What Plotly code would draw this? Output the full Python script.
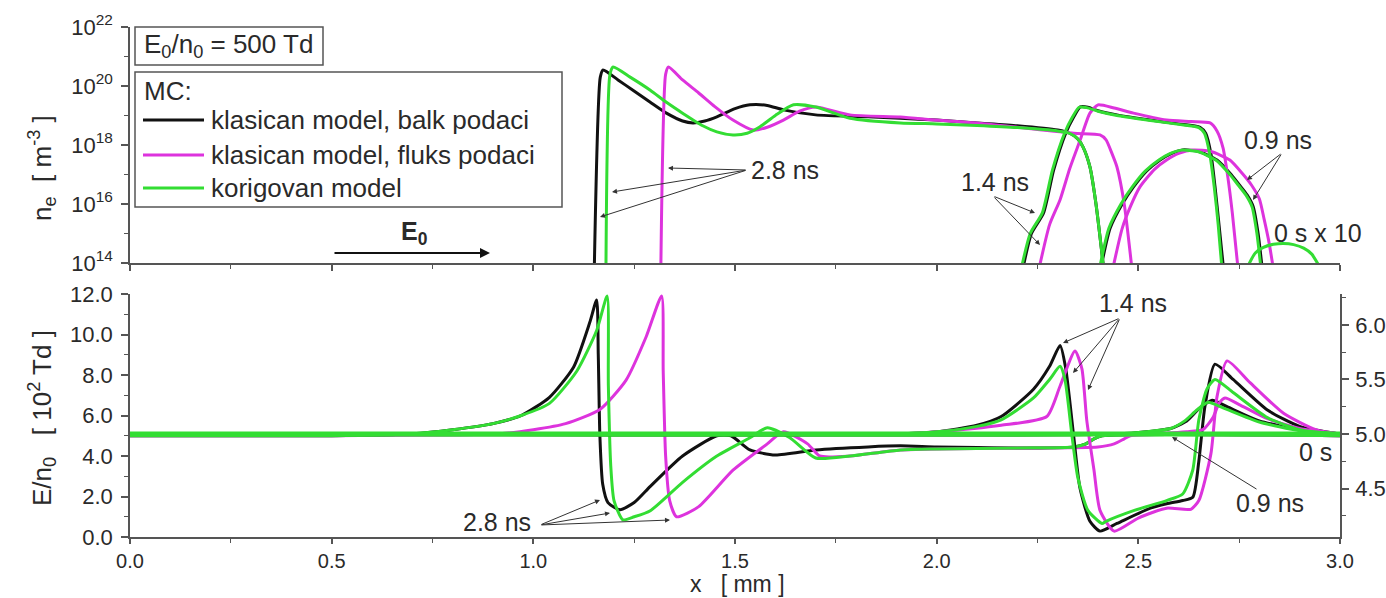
import plotly.graph_objects as go

W, H = 1386, 598
BLACK = "#111111"
MAG = "#dd33dd"
GRN = "#33dd33"
AX = "#555555"
TXT = "#2a2a2a"
FONT = "Arial, 'Liberation Sans', sans-serif"

# ---------------- top panel: n_e [m^-3] ----------------
top28_blk_x = [1.151, 1.166, 1.173, 1.21, 1.247, 1.29, 1.33, 1.37, 1.396, 1.425, 1.455, 1.50, 1.537, 1.58, 1.62, 1.70, 1.83, 1.91, 2.00, 2.10, 2.20, 2.30, 2.33, 2.35, 2.363, 2.38, 2.395, 2.415]
top28_blk_y = [5e13, 2e20, 3.5e20, 1.6e20, 7.2e19, 2.8e19, 1.2e19, 6.5e18, 5.6e18, 6.5e18, 9e18, 1.7e19, 2.3e19, 2.2e19, 1.55e19, 1.05e19, 9e18, 8e18, 7e18, 5.6e18, 4.5e18, 3.2e18, 2.5e18, 1.6e18, 8.5e17, 1.8e17, 1e16, 5e13]
top28_grn_x = [1.180, 1.190, 1.198, 1.24, 1.29, 1.33, 1.37, 1.42, 1.455, 1.495, 1.53, 1.56, 1.60, 1.645, 1.70, 1.785, 1.91, 2.00, 2.10, 2.20, 2.30, 2.33, 2.35, 2.363, 2.38, 2.395, 2.415]
top28_grn_y = [5e13, 2.5e20, 4.4e20, 2.0e20, 7.2e19, 2.8e19, 1.2e19, 4.5e18, 2.8e18, 2.2e18, 2.5e18, 4e18, 1e19, 2.3e19, 1.95e19, 8.1e18, 5.6e18, 5.2e18, 4.6e18, 3.9e18, 3.0e18, 2.5e18, 1.6e18, 8.5e17, 1.8e17, 1e16, 5e13]
top28_mag_x = [1.316, 1.328, 1.335, 1.37, 1.41, 1.45, 1.495, 1.545, 1.58, 1.62, 1.66, 1.70, 1.785, 1.91, 2.00, 2.10, 2.20, 2.34, 2.405, 2.42, 2.435, 2.447, 2.465, 2.485]
top28_mag_y = [5e13, 2.5e20, 4.4e20, 1.6e20, 5.8e19, 2e19, 7e18, 3.2e18, 4e18, 7e18, 1.4e19, 1.95e19, 1.05e19, 8.9e18, 7e18, 5.6e18, 4e18, 2.5e18, 2.2e18, 1.5e18, 5e17, 1.8e17, 1e16, 5e13]

top14_blk_x = [2.212, 2.235, 2.265, 2.29, 2.32, 2.34, 2.356, 2.375, 2.40, 2.447, 2.53, 2.60, 2.653, 2.667, 2.68, 2.69, 2.70, 2.712]
top14_blk_y = [5e13, 1e15, 5e15, 1.4e17, 2.5e18, 9e18, 1.95e19, 1.9e19, 1.45e19, 1.05e19, 7e18, 5.2e18, 4e18, 2.5e18, 5e17, 4e16, 2e15, 5e13]
top14_grn_x = [2.208, 2.232, 2.262, 2.287, 2.317, 2.337, 2.353, 2.372, 2.40, 2.447, 2.53, 2.60, 2.65, 2.664, 2.677, 2.688, 2.698, 2.708]
top14_grn_y = [5e13, 1e15, 5e15, 1.4e17, 2.5e18, 9e18, 1.9e19, 1.85e19, 1.4e19, 1.0e19, 6.8e18, 5.0e18, 3.9e18, 2.5e18, 5e17, 4e16, 2e15, 5e13]
top14_mag_x = [2.252, 2.28, 2.306, 2.33, 2.356, 2.38, 2.40, 2.44, 2.488, 2.57, 2.63, 2.678, 2.695, 2.71, 2.722, 2.733, 2.748]
top14_mag_y = [5e13, 2e15, 1.4e16, 1.6e17, 1.5e18, 1.2e19, 2.3e19, 1.8e19, 1.2e19, 7e18, 6.2e18, 5.6e18, 3e18, 8e17, 8e16, 5e15, 5e13]

top09_blk_x = [2.405, 2.43, 2.46, 2.488, 2.52, 2.554, 2.58, 2.61, 2.65, 2.695, 2.73, 2.75, 2.77, 2.785, 2.797, 2.808]
top09_blk_y = [5e13, 1.5e15, 1e16, 3.8e16, 1.3e17, 3.1e17, 5e17, 6.8e17, 6e17, 3.1e17, 1e17, 4.5e16, 2e16, 8e15, 1e15, 5e13]
top09_grn_x = [2.402, 2.427, 2.457, 2.485, 2.517, 2.551, 2.577, 2.607, 2.647, 2.692, 2.727, 2.747, 2.767, 2.782, 2.794, 2.805]
top09_grn_y = [5e13, 1.5e15, 1e16, 3.8e16, 1.3e17, 3.1e17, 5e17, 6.7e17, 6e17, 3.1e17, 1e17, 4.5e16, 2e16, 8e15, 1e15, 5e13]
top09_mag_x = [2.435, 2.46, 2.48, 2.504, 2.54, 2.57, 2.60, 2.636, 2.68, 2.727, 2.76, 2.78, 2.80, 2.812, 2.824, 2.836]
top09_mag_y = [5e13, 1.5e15, 8e15, 3.8e16, 1.5e17, 3.1e17, 5.2e17, 6.8e17, 6e17, 3.1e17, 1e17, 4.5e16, 1.5e16, 3e15, 5e14, 5e13]

top00_grn_x = [2.772, 2.79, 2.81, 2.835, 2.86, 2.885, 2.91, 2.93, 2.948]
top00_grn_y = [8e13, 2.2e14, 3.4e14, 4.3e14, 4.6e14, 4.2e14, 3.2e14, 2e14, 8e13]

# ---------------- bottom panel: E/n0 ----------------
# 2.8 ns on left axis [10^2 Td]
bot28_blk_x = [0.0, 0.5, 0.7, 0.8, 0.9, 0.97, 1.04, 1.10, 1.14, 1.157, 1.161, 1.165, 1.172, 1.185, 1.215, 1.25, 1.29, 1.37, 1.455, 1.49, 1.537, 1.60, 1.70, 1.83, 1.91, 2.00, 2.20, 2.34, 2.37, 2.39, 2.41, 3.0]
bot28_blk_y = [5.0, 5.0, 5.1, 5.3, 5.6, 6.0, 6.9, 8.4, 10.6, 11.7, 9.0, 5.0, 2.6, 1.7, 1.35, 1.7, 2.5, 4.0, 5.0, 5.0, 4.3, 4.05, 4.3, 4.45, 4.5, 4.45, 4.4, 4.45, 4.6, 4.85, 5.0, 5.0]
bot28_grn_x = [0.0, 0.5, 0.7, 0.8, 0.9, 0.97, 1.04, 1.108, 1.157, 1.183, 1.186, 1.192, 1.20, 1.222, 1.25, 1.29, 1.37, 1.455, 1.537, 1.58, 1.636, 1.70, 1.785, 1.91, 2.00, 2.20, 2.34, 2.37, 2.39, 2.41, 3.0]
bot28_grn_y = [5.0, 5.0, 5.1, 5.3, 5.6, 6.0, 6.6, 8.2, 10.2, 11.9, 7.5, 3.5, 1.8, 0.85, 1.0, 1.3, 2.7, 4.0, 4.9, 5.4, 4.9, 3.9, 4.0, 4.3, 4.35, 4.4, 4.45, 4.6, 4.85, 5.0, 5.0]
bot28_mag_x = [0.0, 0.5, 0.8, 0.917, 1.0, 1.08, 1.165, 1.23, 1.28, 1.318, 1.322, 1.328, 1.338, 1.355, 1.41, 1.495, 1.58, 1.62, 1.68, 1.71, 1.785, 1.91, 2.2, 2.40, 2.44, 2.465, 2.48, 3.0]
bot28_mag_y = [5.0, 5.0, 5.05, 5.1, 5.3, 5.6, 6.3, 7.75, 9.9, 11.9, 8.2, 4.0, 1.8, 1.0, 1.5, 3.3, 4.6, 5.2, 4.6, 4.0, 4.0, 4.3, 4.4, 4.45, 4.6, 4.85, 5.0, 5.0]

# 1.4 ns, 0.9 ns, 0 s on right axis
bot14_blk_x = [0.0, 1.9, 2.0, 2.1, 2.16, 2.24, 2.28, 2.306, 2.32, 2.34, 2.355, 2.38, 2.405, 2.447, 2.53, 2.57, 2.61, 2.635, 2.65, 2.665, 2.69, 2.735, 2.82, 2.90, 3.0]
bot14_blk_y = [5.0, 5.0, 5.02, 5.08, 5.16, 5.41, 5.62, 5.81, 5.6, 4.97, 4.51, 4.2, 4.11, 4.18, 4.32, 4.36, 4.39, 4.42, 4.75, 5.25, 5.64, 5.5, 5.22, 5.07, 5.0]
bot14_grn_x = [0.0, 1.9, 2.0, 2.1, 2.16, 2.24, 2.28, 2.306, 2.318, 2.335, 2.35, 2.375, 2.41, 2.42, 2.49, 2.57, 2.61, 2.635, 2.65, 2.67, 2.69, 2.735, 2.82, 2.90, 3.0]
bot14_grn_y = [5.0, 5.0, 5.02, 5.07, 5.13, 5.33, 5.5, 5.62, 5.5, 5.0, 4.6, 4.3, 4.18, 4.2, 4.3, 4.39, 4.45, 4.67, 5.13, 5.41, 5.5, 5.38, 5.15, 5.04, 5.0]
bot14_mag_x = [0.0, 1.9, 2.0, 2.16, 2.273, 2.306, 2.343, 2.36, 2.372, 2.39, 2.405, 2.44, 2.50, 2.57, 2.63, 2.65, 2.68, 2.695, 2.72, 2.777, 2.86, 2.94, 3.0]
bot14_mag_y = [5.0, 5.0, 5.02, 5.08, 5.16, 5.44, 5.76, 5.6, 5.13, 4.67, 4.3, 4.11, 4.23, 4.32, 4.31, 4.39, 4.82, 5.34, 5.67, 5.47, 5.19, 5.04, 5.0]

bot09_blk_x = [0.0, 2.45, 2.52, 2.58, 2.62, 2.65, 2.683, 2.72, 2.80, 2.90, 3.0]
bot09_blk_y = [5.0, 5.0, 5.02, 5.05, 5.12, 5.23, 5.31, 5.25, 5.12, 5.04, 5.0]
bot09_grn_x = [0.0, 2.45, 2.52, 2.58, 2.615, 2.645, 2.673, 2.71, 2.80, 2.90, 3.0]
bot09_grn_y = [5.0, 5.0, 5.02, 5.05, 5.12, 5.22, 5.29, 5.24, 5.11, 5.03, 5.0]
bot09_mag_x = [0.0, 2.50, 2.62, 2.66, 2.685, 2.70, 2.715, 2.75, 2.82, 2.90, 3.0]
bot09_mag_y = [5.0, 5.0, 5.02, 5.04, 5.15, 5.28, 5.33, 5.27, 5.14, 5.05, 5.0]

bot00_x = [0.0, 3.0]
bot00_y = [5.0, 5.0]

# tick labels
ne_tickvals = [1e14, 1e16, 1e18, 1e20, 1e22]
ne_ticktext = ["10<sup>14</sup>", "10<sup>16</sup>", "10<sup>18</sup>", "10<sup>20</sup>", "10<sup>22</sup>"]
ne_minorvals = [1e15, 1e17, 1e19, 1e21]

legend_labels = ["klasican model, balk podaci", "klasican model, fluks podaci", "korigovan model"]

fig = go.Figure()


def add(x, y, color, xa, ya, width=3, smooth=True):
    line = dict(color=color, width=width)
    if smooth:
        line.update(shape="spline", smoothing=0.6)
    fig.add_trace(go.Scatter(x=x, y=y, mode="lines", xaxis=xa, yaxis=ya,
                             line=line, showlegend=False, hoverinfo="skip"))


# top panel
for xs, ys, c in [(top28_blk_x, top28_blk_y, BLACK), (top14_blk_x, top14_blk_y, BLACK), (top09_blk_x, top09_blk_y, BLACK),
                  (top28_mag_x, top28_mag_y, MAG), (top14_mag_x, top14_mag_y, MAG), (top09_mag_x, top09_mag_y, MAG),
                  (top28_grn_x, top28_grn_y, GRN), (top14_grn_x, top14_grn_y, GRN), (top09_grn_x, top09_grn_y, GRN),
                  (top00_grn_x, top00_grn_y, GRN)]:
    add(xs, ys, c, "x2", "y2")

# bottom panel
for xs, ys, c in [(bot28_blk_x, bot28_blk_y, BLACK), (bot28_mag_x, bot28_mag_y, MAG), (bot28_grn_x, bot28_grn_y, GRN)]:
    add(xs, ys, c, "x", "y")
for xs, ys, c in [(bot14_blk_x, bot14_blk_y, BLACK), (bot09_blk_x, bot09_blk_y, BLACK),
                  (bot14_mag_x, bot14_mag_y, MAG), (bot09_mag_x, bot09_mag_y, MAG),
                  (bot14_grn_x, bot14_grn_y, GRN), (bot09_grn_x, bot09_grn_y, GRN)]:
    add(xs, ys, c, "x", "y3")
add(bot00_x, bot00_y, GRN, "x", "y3", width=5, smooth=False)


def px(x):
    return x / W


def py(y):
    return 1 - y / H


X0, X1 = px(130), px(1340)
TOP = [py(263), py(27)]
BOT = [py(537), py(294)]

tickfont = dict(family=FONT, size=22, color=TXT)
common = dict(showline=True, linecolor=AX, linewidth=1.5, ticks="outside", tickcolor=AX, tickwidth=1.5,
              showgrid=False, zeroline=False, automargin=False)

fig.update_layout(
    width=W, height=H, margin=dict(l=0, r=0, t=0, b=0, autoexpand=False),
    paper_bgcolor="white", plot_bgcolor="white",
    font=dict(family=FONT, color=TXT),
    xaxis=dict(domain=[X0, X1], range=[0, 3], anchor="y", tickmode="linear", tick0=0, dtick=0.5,
               tickformat=".1f", ticklen=5, tickfont=dict(family=FONT, size=20, color=TXT),
               minor=dict(dtick=0.25, ticks="outside", ticklen=4, tickcolor=AX, tickwidth=1.2),
               **common),
    xaxis2=dict(domain=[X0, X1], range=[0, 3], anchor="y2", matches="x", tickmode="linear", tick0=0, dtick=0.5,
                showticklabels=False, ticklen=6,
                minor=dict(dtick=0.25, ticks="outside", ticklen=4, tickcolor=AX, tickwidth=1.2), **common),
    yaxis=dict(domain=BOT, range=[0, 12], anchor="x", tickmode="linear", tick0=0, dtick=2, tickformat=".1f",
               ticklen=7, tickfont=tickfont,
               minor=dict(dtick=1, ticks="outside", ticklen=4, tickcolor=AX, tickwidth=1.2),
               ticklabelstandoff=4, **common),
    yaxis3=dict(range=[4.056, 6.283], overlaying="y", side="right", anchor="x", tickmode="linear", tick0=4.5,
                dtick=0.5, tickformat=".1f", ticklen=7, tickfont=tickfont,
                minor=dict(dtick=0.25, ticks="outside", ticklen=4, tickcolor=AX, tickwidth=1.2),
                ticklabelstandoff=2, **common),
    yaxis2=dict(domain=TOP, type="log", range=[14, 22], anchor="x2", tickmode="array", tickvals=ne_tickvals,
                ticktext=ne_ticktext, ticklen=7, tickfont=tickfont,
                minor=dict(tickmode="array", tickvals=ne_minorvals, ticks="outside", ticklen=4, tickcolor=AX,
                           tickwidth=1.2),
                ticklabelstandoff=4, **common),
)

ann = []
shapes = []


def label(text, x, y, size=25, xanchor="center", yanchor="middle", angle=0, bold=False):
    t = f"<b>{text}</b>" if bold else text
    ann.append(dict(xref="paper", yref="paper", x=px(x), y=py(y), text=t, showarrow=False,
                    xanchor=xanchor, yanchor=yanchor, textangle=angle, borderpad=0,
                    font=dict(family=FONT, size=size, color=TXT)))


def pointer(head, tail, width=1, color="#333333", size=1.0):
    ann.append(dict(xref="paper", yref="paper", x=px(head[0]), y=py(head[1]), ax=tail[0] - head[0],
                    ay=tail[1] - head[1], axref="pixel", ayref="pixel", text="", showarrow=True,
                    arrowhead=2, arrowsize=size, arrowwidth=width, arrowcolor=color, standoff=0, startstandoff=0))


# legend-like boxes
shapes.append(dict(type="rect", xref="paper", yref="paper", x0=px(135), x1=px(323), y0=py(65), y1=py(27),
                   line=dict(color=AX, width=1.5), fillcolor="white"))
shapes.append(dict(type="rect", xref="paper", yref="paper", x0=px(135), x1=px(562), y0=py(207), y1=py(72),
                   line=dict(color=AX, width=1.5), fillcolor="white"))
label("E<sub>0</sub>/n<sub>0</sub> = 500 Td", 143, 45, size=26, xanchor="left")
label("MC:", 143, 91, size=26, xanchor="left")
for lab, col, yy in zip(legend_labels, [BLACK, MAG, GRN], [120, 155, 188]):
    shapes.append(dict(type="line", xref="paper", yref="paper", x0=px(143), x1=px(204), y0=py(yy), y1=py(yy),
                       line=dict(color=col, width=3)))
    label(lab, 210, yy, size=26, xanchor="left")

# E0 arrow
pointer((490, 253), (333, 253), width=2, color="#111111", size=1.0)
label("E<sub>0</sub>", 400, 233, size=25, xanchor="left", bold=True)

# axis titles
label("n<sub>e</sub>  [ m<sup>-3</sup> ]", 42, 168, size=26, angle=-90)
label("E/n<sub>0</sub>   [ 10<sup>2</sup> Td ]", 42, 418, size=26, angle=-90)
label("x   [ mm ]", 737, 598, size=23, yanchor="bottom")

# top annotations
label("2.8 ns", 785, 170, size=25)
for h in [(668, 168), (612, 192), (600, 217)]:
    pointer(h, (747, 170))
label("1.4 ns", 995, 182, size=25)
for h in [(1035, 213), (1040, 245)]:
    pointer(h, (993, 196))
label("0.9 ns", 1278, 140, size=25)
for h in [(1247, 180), (1253, 200)]:
    pointer(h, (1282, 153))
label("0 s x 10", 1318, 233, size=25)

# bottom annotations
label("1.4 ns", 1133, 303, size=25)
for h in [(1063, 343), (1073, 373), (1088, 390)]:
    pointer(h, (1120, 318))
label("0.9 ns", 1270, 503, size=25)
pointer((1172, 437), (1258, 490))
label("0 s", 1315, 452, size=25)
label("2.8 ns", 497, 522, size=25)
for h in [(600, 500), (610, 513), (670, 520)]:
    pointer(h, (540, 525))

fig.update_layout(annotations=ann, shapes=shapes)

fig.write_html("out.html", config={"displayModeBar": False})
